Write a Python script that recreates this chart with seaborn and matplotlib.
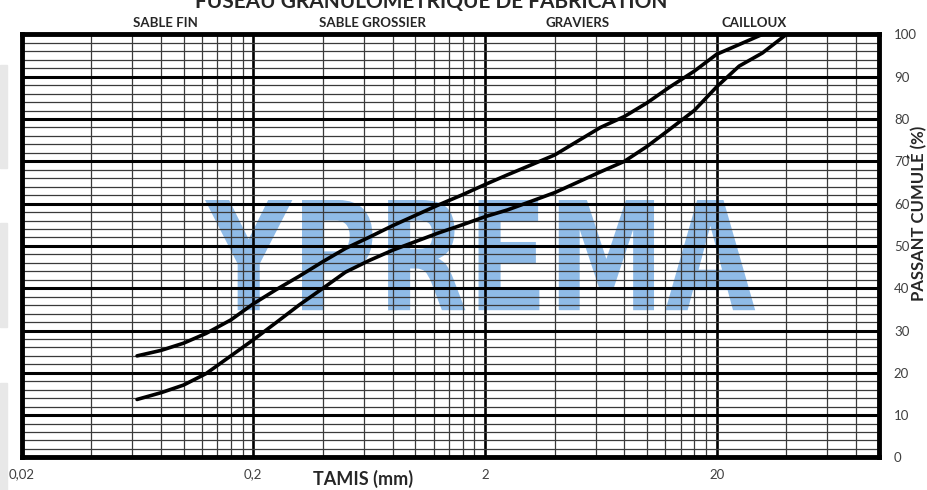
import numpy as np
import pandas as pd
import seaborn as sns
import matplotlib.pyplot as plt
from matplotlib.ticker import FixedLocator, FixedFormatter, NullFormatter
from matplotlib.textpath import TextPath
from matplotlib.patches import PathPatch, Rectangle
from matplotlib.font_manager import FontProperties
from matplotlib.transforms import Affine2D

sns.set_style("white")
plt.rcParams["font.family"] = ["Lato", "DejaVu Sans"]

# Fuseau granulométrique (tamis en mm, passant cumulé en %)
tamis_sup = [0.063, 0.08, 0.1, 0.125, 0.16, 0.2, 0.25, 0.315, 0.4, 0.5, 0.63,
             0.8, 1, 1.25, 1.6, 2, 2.5, 3.15, 4, 5, 6.3, 8, 10, 12.5, 16,
             20, 25, 31.5]
passant_sup = [24.0, 25.3, 27.0, 29.3, 32.5, 36.3, 39.6, 42.8, 46.3, 49.4, 52.0,
               54.8, 57.2, 59.6, 62.1, 64.5, 66.8, 69.1, 71.5, 74.7, 78.0, 80.6, 83.8,
               87.5, 91.3, 95.3, 97.6, 100.0]

tamis_inf = [0.063, 0.08, 0.1, 0.125, 0.16, 0.2, 0.25, 0.315, 0.4, 0.5, 0.63,
             0.8, 1, 1.25, 1.6, 2, 2.5, 3.15, 4, 5, 6.3, 8, 10, 12.5, 16,
             20, 25, 31.5, 40]
passant_inf = [13.7, 15.3, 17.1, 19.8, 24.0, 27.8, 31.8, 36.0, 40.0, 43.8, 46.5,
               49.0, 51.0, 53.0, 55.0, 56.9, 58.5, 60.5, 62.6, 65.0, 67.5, 70.0, 73.5,
               77.5, 82.0, 87.6, 92.5, 95.6, 100.0]

x_major = [0.02, 0.2, 2, 20]
x_labels = ["0,02", "0,2", "2", "20"]
y_ticks = list(range(0, 101, 10))

categories = ["SABLE FIN", "SABLE GROSSIER", "GRAVIERS", "CAILLOUX"]
cat_x = [165, 372, 578, 754]  # pixel centres of the headings

df = pd.concat([
    pd.DataFrame({"tamis": tamis_sup, "passant": passant_sup, "courbe": "sup"}),
    pd.DataFrame({"tamis": tamis_inf, "passant": passant_inf, "courbe": "inf"}),
])

W, H = 927, 490
fig = plt.figure(figsize=(W / 100, H / 100), dpi=100)
ax = fig.add_axes([21.6 / W, 1 - 457.4 / H, 857 / W, 423 / H])

# watermark
tp = TextPath((0, 0), "YPREMA", prop=FontProperties(family="DejaVu Sans", weight="bold"), size=1)
bb = tp.get_extents()
x0, x1, y0, y1 = 0.214, 0.856, 0.348, 0.6085
tr = (Affine2D().translate(-bb.x0, -bb.y0)
      .scale((x1 - x0) / bb.width, (y1 - y0) / bb.height)
      .translate(x0, y0) + ax.transAxes)
ax.add_patch(PathPatch(tp, transform=tr, fc="#8fbbe7", ec="none", zorder=0.5))

sns.lineplot(data=df, x="tamis", y="passant", hue="courbe",
             palette={"sup": "black", "inf": "black"}, linewidth=2.6,
             estimator=None, sort=False, legend=False, ax=ax, zorder=3)

ax.set_xscale("log")
ax.set_xlim(0.02, 100)
ax.set_ylim(0, 100)

minor_x = [k * d for d in x_major for k in range(2, 10) if k * d < 100]
ax.xaxis.set_major_locator(FixedLocator(x_major))
ax.xaxis.set_major_formatter(FixedFormatter(x_labels))
ax.xaxis.set_minor_locator(FixedLocator(minor_x))
ax.xaxis.set_minor_formatter(NullFormatter())
ax.yaxis.set_major_locator(FixedLocator(y_ticks))
ax.yaxis.set_minor_locator(FixedLocator(list(range(0, 101, 2))))

ax.grid(which="major", axis="x", color="black", linewidth=1.9, zorder=1)
ax.grid(which="minor", axis="x", color="#3a3a3a", linewidth=0.9, zorder=1)
ax.grid(which="major", axis="y", color="black", linewidth=2.2, zorder=1)
ax.grid(which="minor", axis="y", color="#3a3a3a", linewidth=0.9, zorder=1)

ax.yaxis.tick_right()
ax.tick_params(which="both", length=0)
ax.tick_params(axis="x", pad=8, labelsize=9.5, labelcolor="#404040")
ax.tick_params(axis="y", pad=11, labelsize=9.5, labelcolor="#404040")
for lab in ax.get_yticklabels():
    lab.set_horizontalalignment("left")

for sp in ax.spines.values():
    sp.set_visible(True)
    sp.set_color("black")
    sp.set_linewidth(3.5)

ax.set_xlabel("")
ax.set_ylabel("")

fig.text(363 / W, 0.010, "TAMIS (mm)", ha="center", va="baseline",
         fontsize=13, fontweight="bold")
fig.text(917 / W, 1 - 213 / H, "PASSANT CUMULÉ (%)", ha="center", va="center",
         rotation=90, fontsize=12, fontweight="bold")
fig.text(431 / W, 1 - 8 / H, "FUSEAU GRANULOMÉTRIQUE DE FABRICATION", ha="center",
         va="baseline", fontsize=15, fontweight="bold")
for name, cx in zip(categories, cat_x):
    fig.text(cx / W, 1 - 27 / H, name, ha="center", va="baseline",
             fontsize=9.5, fontweight="bold")

# faint grey strips on the left edge of the capture
for top, bottom in [(65, 168), (223, 327), (383, 490)]:
    fig.patches.append(Rectangle((0, 1 - bottom / H), 7 / W, (bottom - top) / H,
                                 transform=fig.transFigure, color="#e8e8e8", zorder=0))

fig.savefig("out.png", dpi=100)
